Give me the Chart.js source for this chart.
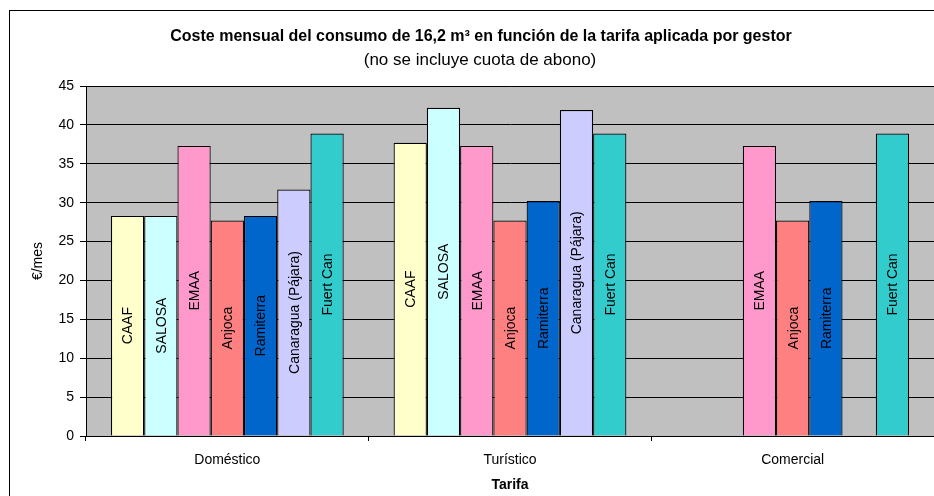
<!DOCTYPE html>
<html>
<head>
<meta charset="utf-8">
<script src="https://cdn.jsdelivr.net/npm/chart.js@4"></script>
<style>
  body { margin: 0; background: #fff; }
  #wrap { width: 934px; height: 496px; }
</style>
</head>
<body>
<div id="wrap"><canvas id="myChart" width="934" height="496"></canvas></div>
<script>
// datos
const categorias = ['Doméstico', 'Turístico', 'Comercial'];
const gestores = ['CAAF', 'SALOSA', 'EMAA', 'Anjoca', 'Ramiterra', 'Canaragua (Pájara)', 'Fuert Can'];
const caaf = [28.3, 37.7, null];
const salosa = [28.3, 42.2, null];
const emaa = [37.3, 37.3, 37.3];
const anjoca = [27.7, 27.7, 27.7];
const ramiterra = [28.3, 30.2, 30.2];
const canaragua = [31.7, 41.9, null];
const fuertCan = [38.9, 38.9, 38.9];
const ticksY = [0, 5, 10, 15, 20, 25, 30, 35, 40, 45];

const valores = [caaf, salosa, emaa, anjoca, ramiterra, canaragua, fuertCan];
const colores = ['#FFFFCC', '#CCFFFF', '#FF99CC', '#FF8080', '#0066CC', '#CCCCFF', '#33CCCC'];

const fuente = '"Liberation Sans", Arial, sans-serif';

// fondo gris del area de trazado y marco exterior
const fondo = {
    id: 'fondo',
    beforeDraw(chart) {
        const {ctx, chartArea: a} = chart;
        ctx.save();
        ctx.fillStyle = '#fff';
        ctx.fillRect(0, 0, chart.width, chart.height);
        ctx.strokeStyle = '#000';
        ctx.lineWidth = 1;
        ctx.strokeRect(9.5, 10.5, 2000, 2000);
        ctx.fillStyle = '#C0C0C0';
        ctx.fillRect(a.left, a.top, a.right - a.left, a.bottom - a.top);
        ctx.strokeStyle = '#808080';
        ctx.beginPath();
        ctx.moveTo(a.left, a.top + 0.5);
        ctx.lineTo(a.right, a.top + 0.5);
        ctx.stroke();
        ctx.restore();
    }
};

// titulo y subtitulo
const titulos = {
    id: 'titulos',
    afterDraw(chart) {
        const ctx = chart.ctx;
        ctx.save();
        ctx.fillStyle = '#000';
        ctx.textAlign = 'center';
        ctx.textBaseline = 'middle';
        ctx.font = 'bold 16px ' + fuente;
        ctx.fillText('Coste mensual del consumo de 16,2 m³ en función de la tarifa aplicada por gestor', 481, 37);
        ctx.font = '17px ' + fuente;
        ctx.fillText('(no se incluye cuota de abono)', 480, 60);
        ctx.restore();
    }
};

// nombre del gestor en vertical dentro de cada barra
const etiquetas = {
    id: 'etiquetas',
    afterDatasetsDraw(chart) {
        const ctx = chart.ctx;
        ctx.save();
        ctx.fillStyle = '#000';
        ctx.font = '14px ' + fuente;
        ctx.textAlign = 'center';
        ctx.textBaseline = 'middle';
        chart.data.datasets.forEach((ds, i) => {
            chart.getDatasetMeta(i).data.forEach((bar, j) => {
                if (ds.data[j] == null) return;
                ctx.save();
                ctx.translate(bar.x + 1, (bar.y + bar.base) / 2);
                ctx.rotate(-Math.PI / 2);
                ctx.fillText(ds.label, 0, 0);
                ctx.restore();
            });
        });
        ctx.restore();
    }
};

const ctx = document.getElementById('myChart').getContext('2d');
new Chart(ctx, {
    type: 'bar',
    data: {
        labels: categorias,
        datasets: gestores.map((g, i) => ({
            label: g,
            data: valores[i],
            backgroundColor: colores[i],
            borderColor: '#000',
            borderWidth: 1.2,
            categoryPercentage: 7 / 8.5,
            barPercentage: 1
        }))
    },
    options: {
        responsive: false,
        animation: false,
        layout: { padding: { top: 86, left: 0, right: 0, bottom: 0 } },
        plugins: {
            legend: { display: false },
            tooltip: { enabled: false }
        },
        scales: {
            x: {
                grid: { drawOnChartArea: false, drawTicks: true, tickLength: 5, color: '#000', offset: true },
                border: { color: '#000', width: 1 },
                ticks: { color: '#000', font: { family: fuente, size: 14 }, padding: 11, maxRotation: 0 },
                title: { display: true, text: 'Tarifa', color: '#000', font: { family: fuente, size: 14, weight: 'bold' }, padding: { top: 0, bottom: 2 } },
                afterFit(s) { s.height = 60; }
            },
            y: {
                min: 0,
                max: 45,
                afterBuildTicks(s) { s.ticks = ticksY.map(v => ({ value: v })); },
                grid: { color: '#000', tickLength: 6, drawTicks: true },
                border: { color: '#000', width: 1 },
                ticks: { color: '#000', font: { family: fuente, size: 14 }, padding: 6 },
                title: { display: true, text: '€/mes', color: '#000', font: { family: fuente, size: 14 }, padding: { top: 30, bottom: 0 } },
                afterFit(s) { s.width = 86; }
            }
        }
    },
    plugins: [fondo, titulos, etiquetas]
});
</script>
</body>
</html>
